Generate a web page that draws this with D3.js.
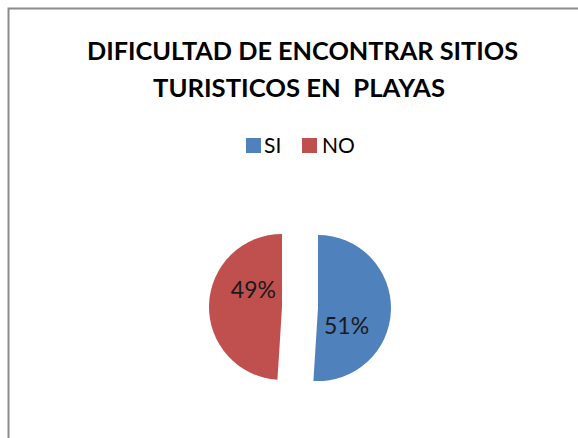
<!DOCTYPE html>
<html>
<head>
<meta charset="utf-8">
<script src="https://cdn.jsdelivr.net/npm/d3@7"></script>
<style>
  html, body { margin: 0; padding: 0; background: #fff; }
  svg { display: block; }
  text { font-family: Lato, "Open Sans", sans-serif; white-space: pre; }
</style>
</head>
<body>
<div id="chart"></div>
<script>
const titleLines = ["DIFICULTAD DE ENCONTRAR SITIOS", "TURISTICOS EN  PLAYAS"];
const titleWidths = [431, 292];
const categories = ["SI", "NO"];
const values = [51, 49];
const colors = ["#4F81BD", "#C0504D"];

const W = 578, H = 438;
const svg = d3.select("#chart").append("svg").attr("width", W).attr("height", H);

// chart border (extends past the right/bottom of the view)
svg.append("rect")
  .attr("x", 8.5).attr("y", 8.5)
  .attr("width", 600).attr("height", 460)
  .attr("fill", "#fff").attr("stroke", "#8c8c8c").attr("stroke-width", 2);

const cx = 300;

// title
svg.append("g").selectAll("text").data(titleLines).join("text")
  .attr("x", (d, i) => i === 0 ? 302.5 : 299)
  .attr("y", (d, i) => 60 + i * 37)
  .attr("text-anchor", "middle")
  .attr("font-weight", "bold")
  .attr("font-size", 24)
  .attr("textLength", (d, i) => titleWidths[i])
  .attr("lengthAdjust", "spacingAndGlyphs")
  .attr("fill", "#000")
  .text(d => d);

// legend
const legendItems = [
  { x: 246, textX: 264 },
  { x: 302, textX: 322 }
];
const lg = svg.append("g");
categories.forEach((c, i) => {
  lg.append("rect")
    .attr("x", legendItems[i].x).attr("y", 138)
    .attr("width", 15).attr("height", 15)
    .attr("fill", colors[i]);
  lg.append("text")
    .attr("x", legendItems[i].textX).attr("y", 153)
    .attr("font-size", 21)
    .attr("fill", "#000")
    .text(c);
});

// pie
const r = 73, pcy = 307.5, explode = 18;
const pie = d3.pie().sort(null).value(d => d).startAngle(0).endAngle(2 * Math.PI);
const arcs = pie(values);
const arc = d3.arc().innerRadius(0).outerRadius(r);
const total = d3.sum(values);

const pg = svg.append("g").attr("transform", `translate(${cx},${pcy})`);
const slices = pg.selectAll("g.slice").data(arcs).join("g")
  .attr("class", "slice")
  .attr("transform", d => {
    const m = (d.startAngle + d.endAngle) / 2;
    return `translate(${explode * Math.sin(m)},${-explode * Math.cos(m)})`;
  });

slices.append("path")
  .attr("d", arc)
  .attr("fill", (d, i) => colors[i]);

slices.append("text")
  .attr("x", d => {
    const m = (d.startAngle + d.endAngle) / 2 + 0.52;
    return 0.46 * r * Math.sin(m);
  })
  .attr("y", d => {
    const m = (d.startAngle + d.endAngle) / 2 + 0.52;
    return -0.46 * r * Math.cos(m);
  })
  .attr("dy", "0.36em")
  .attr("text-anchor", "middle")
  .attr("font-size", 23)
  .attr("fill", "#1a1a1a")
  .text(d => Math.round(d.value / total * 100) + "%");
</script>
</body>
</html>
